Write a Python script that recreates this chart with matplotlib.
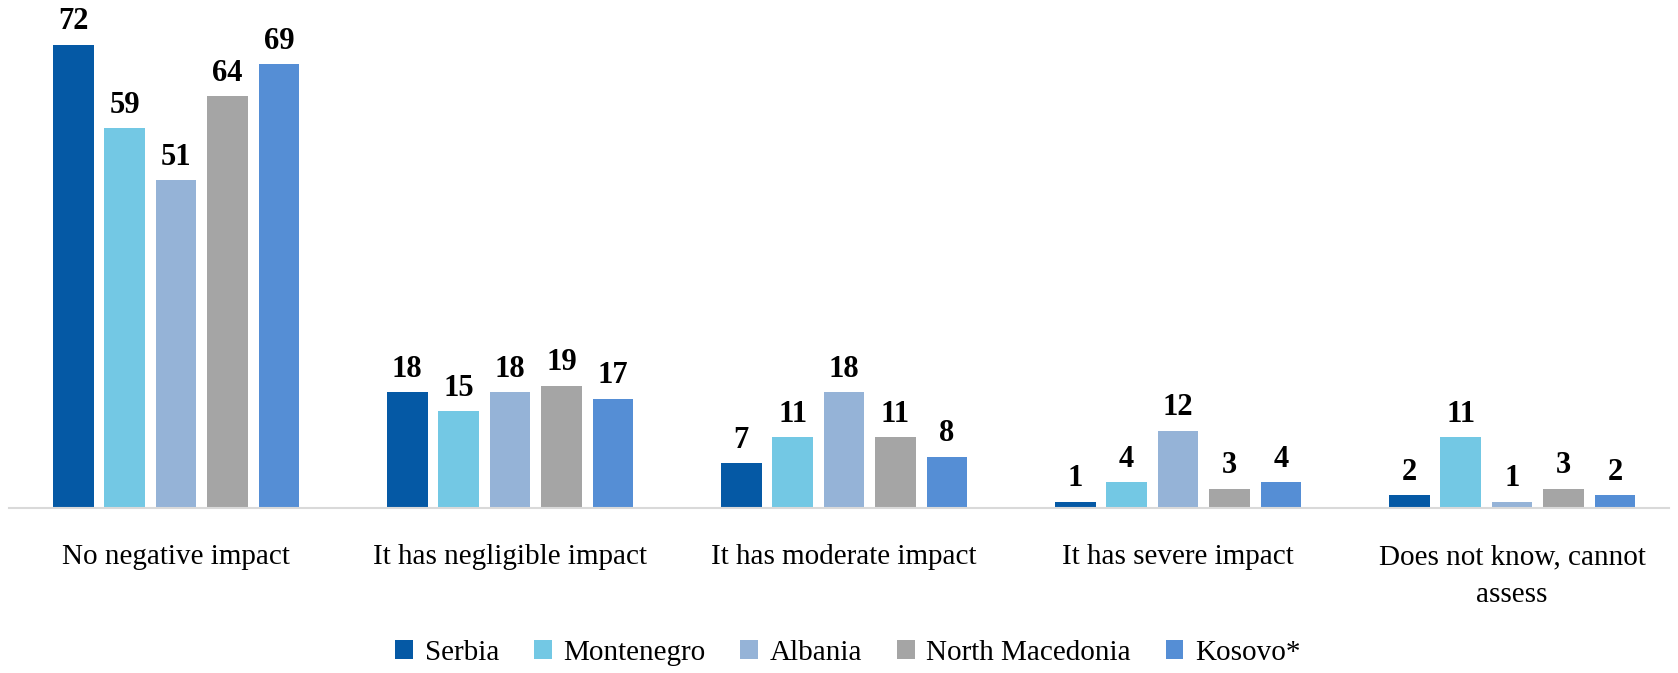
import matplotlib.pyplot as plt
import numpy as np

categories = ["No negative impact", "It has negligible impact", "It has moderate impact",
              "It has severe impact", "Does not know, cannot\nassess"]
countries = ["Serbia", "Montenegro", "Albania", "North Macedonia", "Kosovo*"]
serbia = [72, 18, 7, 1, 2]
montenegro = [59, 15, 11, 4, 11]
albania = [51, 18, 18, 12, 1]
north_macedonia = [64, 19, 11, 3, 3]
kosovo = [69, 17, 8, 4, 2]
colors = ["#0559A5", "#73C8E4", "#95B3D7", "#A5A5A5", "#558ED5"]

plt.rcParams['font.family'] = ['Liberation Serif', 'DejaVu Serif']

fig = plt.figure(figsize=(16.78, 6.73), dpi=100)
ax = fig.add_axes([9 / 1678, 0.2452, 1660 / 1678, 0.7266])

x = np.arange(len(categories))
pitch = 0.154
width = 0.122
series = [serbia, montenegro, albania, north_macedonia, kosovo]
for i, (name, vals, col) in enumerate(zip(countries, series, colors)):
    pos = x + (i - 2) * pitch
    bars = ax.bar(pos, vals, width, color=col, label=name, zorder=2)
    for b, v in zip(bars, vals):
        ax.annotate(str(v), (b.get_x() + b.get_width() / 2, v),
                    xytext=(0, 6), textcoords='offset points',
                    ha='center', va='bottom', fontsize=22, fontweight='bold')

ax.set_xlim(-0.5, 4.47)
ax.set_ylim(0, 76)
ax.set_yticks([])
ax.set_xticks(x)
ax.set_xticklabels(categories, fontsize=21, va='top', linespacing=1.6)
ax.tick_params(axis='x', length=0, pad=26)
for s in ['top', 'right', 'left']:
    ax.spines[s].set_visible(False)
ax.spines['bottom'].set_color('#D9D9D9')
ax.spines['bottom'].set_linewidth(1.5)

ax.legend(loc='center', bbox_to_anchor=(848 / 1678, 20 / 673), bbox_transform=fig.transFigure,
          ncol=5, frameon=False, fontsize=21, handlelength=0.6, handleheight=0.6,
          handletextpad=0.4, columnspacing=1.2)

fig.savefig('out.png', dpi=100)
